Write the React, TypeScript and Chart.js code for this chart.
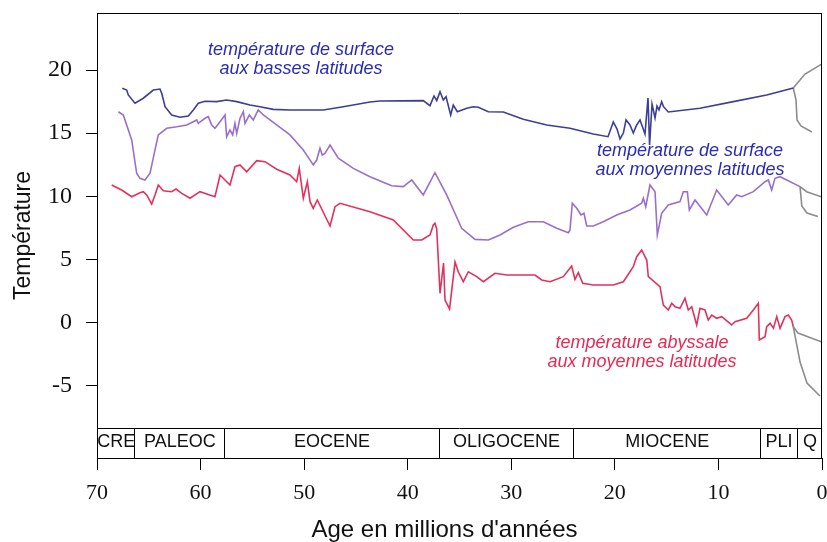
import React, { useEffect, useRef } from 'react';
import { Chart, registerables } from 'chart.js';

Chart.register(...registerables);

// ---- Data (age in Ma, temperature in °C) ----
const lowLatAges = [67.56, 67.13, 66.98, 66.33, 65.53, 64.56, 63.92, 63.75, 63.43, 62.79, 61.99, 61.18, 60.7, 60.22, 59.57, 58.44, 57.48, 56.51, 55.23, 54.26, 52.98, 51.37, 48.15, 46.22, 43.64, 42.68, 38.5, 37.85, 37.46, 37.2, 36.88, 36.56, 36.3, 35.85, 35.6, 35.21, 34.3, 33.67, 33.18, 32.22, 30.77, 28.84, 26.58, 24.33, 22.08, 20.66, 20.15, 19.79, 19.5, 19.18, 18.92, 18.54, 18.22, 17.89, 17.57, 17.09, 16.8, 16.65, 16.41, 16.12, 15.93, 15.74, 15.48, 15.3, 14.84, 11.78, 8.56, 5.34, 2.77];
const lowLatTemps = [18.56, 18.42, 18.03, 17.37, 17.77, 18.42, 18.5, 18.16, 17.1, 16.44, 16.26, 16.36, 16.84, 17.37, 17.53, 17.5, 17.63, 17.5, 17.23, 17.1, 16.89, 16.84, 16.84, 17.1, 17.47, 17.55, 17.58, 17.18, 17.95, 17.58, 18.29, 17.63, 17.89, 16.44, 17.23, 16.7, 16.97, 17.1, 17.05, 16.7, 16.68, 16.1, 15.65, 15.39, 14.93, 14.72, 15.89, 15.33, 14.54, 15.01, 16.05, 15.65, 15.01, 15.65, 16.05, 14.93, 17.79, 14.06, 17.31, 16.2, 17.15, 16.84, 17.5, 17.1, 16.68, 16.97, 17.5, 18.03, 18.58];

const midLatAges = [67.94, 67.46, 66.65, 66.17, 65.85, 65.37, 64.88, 64.4, 64.08, 63.27, 62.3, 61.34, 60.7, 60.37, 60.22, 59.57, 59.25, 58.93, 58.61, 58.12, 57.64, 57.48, 57.16, 56.9, 56.68, 56.51, 56.19, 55.87, 55.71, 55.29, 54.91, 54.43, 53.94, 52.65, 51.37, 50.08, 49.12, 48.79, 48.47, 48.25, 47.99, 47.5, 46.7, 45.25, 43.64, 41.55, 40.43, 39.61, 38.5, 37.37, 36.24, 34.79, 33.5, 32.22, 31.09, 29.8, 28.36, 26.91, 25.61, 24.49, 24.33, 24.11, 23.68, 23.27, 22.98, 22.72, 22.08, 21.12, 19.82, 18.54, 17.41, 17.25, 17.02, 16.61, 16.12, 15.9, 15.48, 14.84, 13.71, 13.39, 13.0, 12.81, 12.26, 11.13, 10.17, 9.05, 8.24, 7.75, 6.63, 5.5, 5.18, 4.86, 4.54, 4.05, 3.41, 2.12];
const midLatTemps = [16.7, 16.44, 14.46, 11.82, 11.42, 11.29, 11.82, 13.67, 14.86, 15.39, 15.51, 15.65, 15.91, 16.05, 15.78, 16.18, 16.31, 15.65, 15.39, 15.91, 16.44, 14.72, 15.25, 14.86, 15.78, 14.99, 16.18, 16.7, 15.78, 16.44, 16.05, 16.84, 16.44, 15.65, 14.86, 13.67, 12.48, 12.87, 13.8, 13.27, 13.4, 14.06, 13.01, 12.21, 11.55, 10.83, 10.76, 11.29, 10.1, 11.87, 10.1, 7.46, 6.58, 6.53, 6.93, 7.54, 7.98, 7.98, 7.46, 7.11, 7.32, 9.44, 9.04, 8.51, 8.65, 7.64, 7.64, 7.98, 8.51, 8.91, 9.44, 9.84, 9.17, 10.89, 10.36, 6.93, 8.65, 9.3, 9.57, 10.36, 10.36, 8.91, 9.7, 8.51, 10.49, 9.3, 10.1, 9.96, 10.36, 11.15, 11.29, 10.49, 11.42, 11.55, 11.29, 10.76];

const abyssAges = [68.58, 67.62, 66.65, 65.85, 65.53, 65.2, 64.72, 64.4, 64.08, 63.6, 62.79, 62.37, 61.82, 61.02, 60.06, 58.61, 58.12, 57.16, 56.68, 56.19, 55.55, 54.58, 53.78, 52.65, 51.37, 50.72, 50.47, 50.08, 49.69, 49.43, 49.12, 48.73, 47.5, 47.02, 46.54, 43.64, 41.39, 39.46, 38.65, 37.85, 37.53, 37.37, 37.2, 36.88, 36.54, 36.4, 35.96, 35.43, 35.12, 34.63, 34.15, 33.34, 32.7, 31.57, 30.44, 27.71, 27.06, 26.26, 24.98, 24.17, 23.85, 23.53, 23.1, 22.08, 20.15, 19.18, 18.22, 17.89, 17.41, 16.92, 16.77, 15.64, 15.32, 14.84, 14.51, 14.19, 13.71, 13.23, 12.91, 12.58, 12.1, 11.78, 11.3, 10.98, 10.65, 10.17, 9.68, 8.72, 8.4, 7.27, 6.63, 6.15, 6.05, 5.5, 5.34, 5.01, 4.69, 4.37, 4.05, 3.57, 3.25, 2.93, 2.77];
const abyssTemps = [10.89, 10.49, 9.96, 10.28, 10.36, 10.1, 9.38, 10.1, 10.89, 10.44, 10.36, 10.57, 10.23, 9.84, 10.36, 9.96, 11.68, 10.89, 12.34, 12.48, 11.94, 12.82, 12.74, 12.14, 11.68, 11.15, 12.21, 9.84, 11.15, 9.57, 9.04, 9.7, 7.64, 9.17, 9.44, 8.77, 8.11, 6.53, 6.53, 6.93, 7.72, 7.85, 7.4, 2.3, 4.7, 1.77, 1.06, 4.78, 4.01, 3.22, 4.01, 3.62, 3.22, 3.89, 3.75, 3.75, 3.36, 3.22, 3.62, 4.47, 3.41, 3.94, 3.09, 2.96, 2.96, 3.22, 4.41, 5.2, 5.74, 4.94, 3.62, 2.83, 1.37, 0.98, 1.51, 1.24, 1.11, 1.91, 0.98, 1.24, -0.21, 1.11, 0.98, 0.18, 0.58, 0.32, 0.45, -0.21, 0.05, 0.32, 0.98, 1.51, -1.4, -1.14, -0.35, -0.08, -0.47, 0.45, -0.47, 0.45, 0.58, 0.18, -0.35];

// recent (Pleistocene) grey branches
const recentLowUpAges = [2.77, 1.64, 0];
const recentLowUpTemps = [18.58, 19.69, 20.49];
const recentLowDownAges = [2.77, 2.51, 2.41, 2.03, 0.98];
const recentLowDownTemps = [18.58, 17.63, 16.04, 15.57, 15.09];
const recentMidUpAges = [2.12, 1.48, 0];
const recentMidUpTemps = [10.76, 10.36, 9.94];
const recentMidDownAges = [2.12, 1.95, 1.45, 0.4];
const recentMidDownTemps = [10.76, 9.22, 8.67, 8.39];
const recentAbyssUpAges = [2.77, 2.32, 0];
const recentAbyssUpTemps = [-0.35, -0.85, -1.56];
const recentAbyssDownAges = [2.77, 2.12, 1.45, 0.2];
const recentAbyssDownTemps = [-0.35, -3.15, -4.81, -5.84];

const epochNames = ['CRE', 'PALEOC', 'EOCENE', 'OLIGOCENE', 'MIOCENE', 'PLI', 'Q'];
const epochStarts = [70, 66.4, 57.7, 37, 24, 6, 2.4];
const epochEnds = [66.4, 57.7, 37, 24, 6, 2.4, 0];

const xTickValues = [70, 60, 50, 40, 30, 20, 10, 0];
const yTickValues = [20, 15, 10, 5, 0, -5];
const yMin = -10.76;
const yMax = 24.53;
const bandTop = -8.38;

const xTitle = "Age en millions d'années";
const annotationLines = [
  ['température de surface', 'aux basses latitudes'],
  ['température de surface', 'aux moyennes latitudes'],
  ['température abyssale', 'aux moyennes latitudes'],
];
const annotationAges = [50.3, 12.74, 17.38];
const annotationTemps = [21.6, 13.59, -1.64];
const annotationColors = ['#2b2bb3', '#2b2bb3', '#e62a55'];

const zip = (xs: number[], ys: number[]) => xs.map((x, i) => ({ x, y: ys[i] }));

const overlayPlugin = {
  id: 'overlay',
  afterDraw(chart: any) {
    const { ctx, chartArea, scales } = chart;
    const { left, right, top, bottom } = chartArea;
    const xs = scales.x;
    const ys = scales.y;
    ctx.save();
    ctx.strokeStyle = '#000';
    ctx.lineWidth = 1;
    ctx.beginPath();
    ctx.moveTo(left, top + 0.5);
    ctx.lineTo(right, top + 0.5);
    ctx.moveTo(right - 0.5, top);
    ctx.lineTo(right - 0.5, bottom);
    const bt = Math.round(ys.getPixelForValue(bandTop)) + 0.5;
    ctx.moveTo(left, bt);
    ctx.lineTo(right, bt);
    epochStarts.forEach((s, i) => {
      if (i === 0) return;
      const px = Math.round(xs.getPixelForValue(s)) + 0.5;
      ctx.moveTo(px, bt);
      ctx.lineTo(px, bottom);
    });
    ctx.stroke();

    ctx.fillStyle = '#111';
    ctx.font = '18px "Liberation Sans", Arial, sans-serif';
    ctx.textAlign = 'center';
    ctx.textBaseline = 'middle';
    epochNames.forEach((name, i) => {
      const a = xs.getPixelForValue(epochStarts[i]);
      const b = xs.getPixelForValue(epochEnds[i]);
      ctx.fillText(name, (a + b) / 2 + 0.5, (bt + bottom) / 2 - 1);
    });

    ctx.font = 'italic 18px "Liberation Sans", Arial, sans-serif';
    annotationLines.forEach((lines, i) => {
      const cx = xs.getPixelForValue(annotationAges[i]);
      const cy = ys.getPixelForValue(annotationTemps[i]);
      ctx.fillStyle = annotationColors[i];
      lines.forEach((t, j) => ctx.fillText(t, cx, cy + j * 19));
    });

    // x-axis title
    ctx.fillStyle = '#111';
    ctx.font = '24px "Liberation Sans", Arial, sans-serif';
    ctx.fillText(xTitle, xs.getPixelForValue(35) - 15, chart.height - 12);
    ctx.restore();
  },
};

export default function App() {
  const ref = useRef<HTMLCanvasElement | null>(null);
  useEffect(() => {
    if (!ref.current) return;
    const mk = (data: any, color: string, width = 1.6) => ({
      data,
      borderColor: color,
      borderWidth: width,
      pointRadius: 0,
      tension: 0,
      fill: false,
    });
    const grey = '#8c8c8c';
    const chart = new Chart(ref.current, {
      type: 'line',
      data: {
        datasets: [
          mk(zip(lowLatAges, lowLatTemps), '#3d3f94'),
          mk(zip(midLatAges, midLatTemps), '#9870cc'),
          mk(zip(abyssAges, abyssTemps), '#e0335c'),
          mk(zip(recentLowUpAges, recentLowUpTemps), grey),
          mk(zip(recentLowDownAges, recentLowDownTemps), grey),
          mk(zip(recentMidUpAges, recentMidUpTemps), grey),
          mk(zip(recentMidDownAges, recentMidDownTemps), grey),
          mk(zip(recentAbyssUpAges, recentAbyssUpTemps), grey),
          mk(zip(recentAbyssDownAges, recentAbyssDownTemps), grey),
        ] as any,
      },
      options: {
        responsive: false,
        animation: false,
        devicePixelRatio: 1,
        layout: { padding: { top: 13, right: 5, left: 0, bottom: 0 } },
        plugins: { legend: { display: false }, tooltip: { enabled: false } },
        scales: {
          x: {
            type: 'linear',
            min: 0,
            max: 70,
            reverse: true,
            afterFit: (s: any) => { s.height = 84; s.paddingLeft = 0; s.paddingRight = 0; },
            afterBuildTicks: (s: any) => { s.ticks = xTickValues.map((v) => ({ value: v })); },
            grid: { drawOnChartArea: false, drawTicks: true, tickLength: 12, color: '#000' },
            border: { display: true, color: '#000', width: 1 },
            ticks: {
              color: '#111',
              padding: 10,
              maxRotation: 0,
              autoSkip: false,
              font: { family: '"Liberation Serif", "Times New Roman", serif', size: 22 },
              callback: (v: any) => String(v),
            },
            title: { display: false },
          },
          y: {
            type: 'linear',
            min: yMin,
            max: yMax,
            afterFit: (s: any) => { s.width = 97; s.paddingTop = 0; s.paddingBottom = 0; },
            afterBuildTicks: (s: any) => { s.ticks = yTickValues.map((v) => ({ value: v })); },
            grid: { drawOnChartArea: false, drawTicks: true, tickLength: 11, color: '#000' },
            border: { display: true, color: '#000', width: 1 },
            ticks: {
              color: '#111',
              padding: 14,
              autoSkip: false,
              font: { family: '"Liberation Serif", "Times New Roman", serif', size: 24 },
              callback: (v: any) => String(v),
            },
            title: {
              display: true,
              text: 'Température',
              color: '#111',
              font: { family: '"Liberation Sans", Arial, sans-serif', size: 23, lineHeight: 1 },
              padding: { top: 12, bottom: 0 },
            },
          },
        },
      },
      plugins: [overlayPlugin],
    } as any);
    return () => chart.destroy();
  }, []);
  return (
    <div style={{ position: 'fixed', left: 0, top: 0, width: 827, height: 542, background: '#fff' }}>
      <canvas ref={ref} width={827} height={542} style={{ display: 'block', width: 827, height: 542 }} />
    </div>
  );
}
